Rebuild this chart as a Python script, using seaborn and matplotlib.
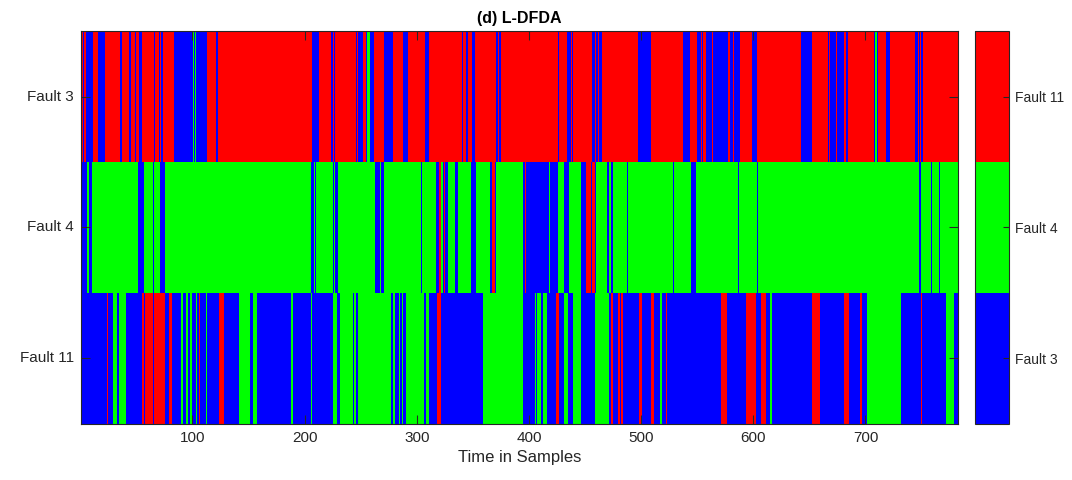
import numpy as np
import matplotlib
matplotlib.use('Agg')
import matplotlib.pyplot as plt
from matplotlib.colors import ListedColormap
import seaborn as sns

# class codes: 1 = Fault 3 (blue), 2 = Fault 4 (green), 3 = Fault 11 (red)
n_samples = 782
row_names = ['Fault 3', 'Fault 4', 'Fault 11']
class_names = ['Fault 3', 'Fault 4', 'Fault 11']
class_colors = ['#0000ff', '#00ff00', '#ff0000']
xtick_values = [100, 200, 300, 400, 500, 600, 700]

# predicted label runs for each true fault: start sample index (0 based) and code
f3_starts = [0, 1, 2, 3, 5, 11, 15, 22, 35, 37, 43, 45, 48, 49, 52, 55, 65, 66, 70, 71,
             72, 73, 83, 100, 101, 102, 103, 113, 121, 122, 206, 212, 223, 225, 226, 227,
             245, 246, 247, 252, 254, 255, 258, 261, 270, 278, 287, 292, 307, 310, 340,
             341, 343, 345, 349, 351, 370, 372, 373, 375, 425, 426, 433, 437, 438, 439,
             456, 458, 459, 461, 462, 465, 497, 508, 537, 543, 549, 553, 554, 555, 557,
             563, 564, 577, 579, 581, 582, 588, 598, 603, 642, 652, 666, 667, 668, 673,
             674, 680, 682, 684, 707, 708, 710, 711, 718, 721, 744, 746, 747, 748, 749, 751]
f3_codes = [1, 3, 1, 3, 1, 3, 1, 3, 1, 3, 1, 3, 1, 3, 1, 3, 1, 3, 1, 3,
            1, 3, 1, 2, 1, 2, 1, 3, 1, 3, 1, 3, 1, 3, 1, 3,
            1, 3, 1, 3, 1, 2, 1, 3, 1, 3, 1, 3, 1, 3, 1,
            3, 1, 3, 1, 3, 1, 3, 1, 3, 1, 3, 1, 3, 1, 3,
            1, 3, 1, 3, 1, 3, 1, 3, 1, 3, 1, 3, 1, 3, 1,
            3, 1, 3, 1, 3, 1, 3, 1, 3, 1, 3, 1, 3, 1, 3,
            1, 3, 1, 3, 1, 2, 1, 3, 1, 3, 1, 3, 1, 3, 1, 3]

f4_starts = [0, 6, 7, 10, 51, 56, 64, 65, 71, 75, 205, 208, 209, 210, 225, 226, 227, 229,
             262, 267, 268, 270, 303, 304, 317, 319, 321, 323, 324, 325, 327, 334, 336,
             348, 352, 365, 367, 369, 370, 394, 396, 397, 417, 418, 425, 431, 435, 446,
             450, 455, 456, 458, 459, 469, 471, 473, 474, 487, 488, 528, 529, 544, 548,
             586, 587, 603, 604, 747, 749, 758, 759, 765, 766]
f4_codes = [1, 2, 1, 2, 1, 2, 1, 2, 1, 2, 1, 2, 1, 2, 1, 2, 1, 2,
            1, 2, 1, 2, 1, 2, 1, 3, 2, 1, 3, 1, 2, 1, 2,
            1, 2, 1, 3, 1, 2, 1, 3, 1, 2, 1, 2, 1, 2, 1,
            3, 1, 3, 1, 2, 1, 2, 1, 2, 1, 2, 1, 2, 1, 2,
            1, 2, 1, 2, 1, 2, 1, 2, 1, 2]

f11_starts = [0, 23, 24, 29, 32, 34, 40, 55, 56, 57, 64, 65, 75, 79, 81, 89, 91, 94, 96,
              97, 99, 103, 104, 105, 106, 112, 113, 123, 128, 141, 151, 154, 157, 187,
              189, 205, 206, 225, 228, 231, 243, 244, 245, 247, 277, 278, 280, 284, 285,
              286, 287, 290, 306, 308, 310, 318, 321, 359, 394, 405, 406, 407, 410, 412,
              416, 424, 426, 431, 434, 439, 446, 458, 471, 473, 474, 479, 481, 482, 483,
              498, 500, 508, 511, 516, 518, 522, 523, 571, 576, 593, 602, 606, 611, 614,
              616, 652, 659, 680, 685, 695, 696, 701, 731, 749, 750, 771, 778]
f11_codes = [1, 3, 1, 2, 1, 2, 1, 3, 1, 3, 1, 3, 1, 3, 1, 2, 1, 2, 1,
             2, 1, 2, 1, 3, 1, 2, 1, 3, 1, 2, 1, 2, 1, 2,
             1, 2, 1, 2, 1, 2, 1, 2, 1, 2, 1, 2, 1, 2, 1,
             2, 1, 2, 1, 2, 1, 3, 1, 2, 1, 2, 1, 2, 1, 2,
             1, 3, 1, 2, 1, 2, 1, 2, 1, 3, 1, 3, 1, 3, 1,
             3, 1, 3, 1, 2, 1, 3, 1, 3, 1, 3, 1, 3, 1, 2,
             1, 3, 1, 3, 1, 3, 1, 2, 1, 3, 1, 2, 1]


def expand(starts, codes):
    lengths = np.diff(starts + [n_samples])
    return np.repeat(codes, lengths)


mat = np.vstack([expand(f3_starts, f3_codes),
                 expand(f4_starts, f4_codes),
                 expand(f11_starts, f11_codes)])

sns.set_style('white')
plt.rcParams['font.family'] = ['Liberation Sans', 'DejaVu Sans']

fig = plt.figure(figsize=(10.72, 4.8), dpi=100)
ax = fig.add_axes([0.0753, 0.1167, 0.8184, 0.8187])
cax = fig.add_axes([0.9098, 0.1167, 0.0317, 0.8187])

cmap = ListedColormap(class_colors)
sns.heatmap(mat, ax=ax, cbar_ax=cax, cmap=cmap, vmin=0.5, vmax=3.5,
            xticklabels=False, yticklabels=row_names, linewidths=0)

txt = '#262626'
ax.set_axisbelow(False)
ax.set_xticks([v - 0.5 for v in xtick_values])
ax.set_xticklabels([str(v) for v in xtick_values], fontsize=11, color=txt)
ax.set_yticklabels(row_names, rotation=0, fontsize=11, color=txt)
ax.tick_params(direction='in', length=6.5, width=0.8, color=txt,
               top=True, right=True, bottom=True, left=True, pad=5)
for s in ax.spines.values():
    s.set_visible(True)
    s.set_color(txt)
    s.set_linewidth(0.8)
ax.set_xlabel('Time in Samples', fontsize=12, color=txt)
ax.set_title('(d) L-DFDA', fontsize=11.5, fontweight='bold', color='black', pad=6)

cb = ax.collections[0].colorbar
cb.set_ticks([1, 2, 3])
cb.set_ticklabels(class_names)
cb.outline.set_linewidth(0.8)
cb.outline.set_edgecolor(txt)
cax.set_axisbelow(False)
cax.tick_params(direction='in', length=4.5, width=0.8, color=txt, labelsize=10,
                labelcolor=txt, pad=4)

fig.savefig('out.png', dpi=100)
